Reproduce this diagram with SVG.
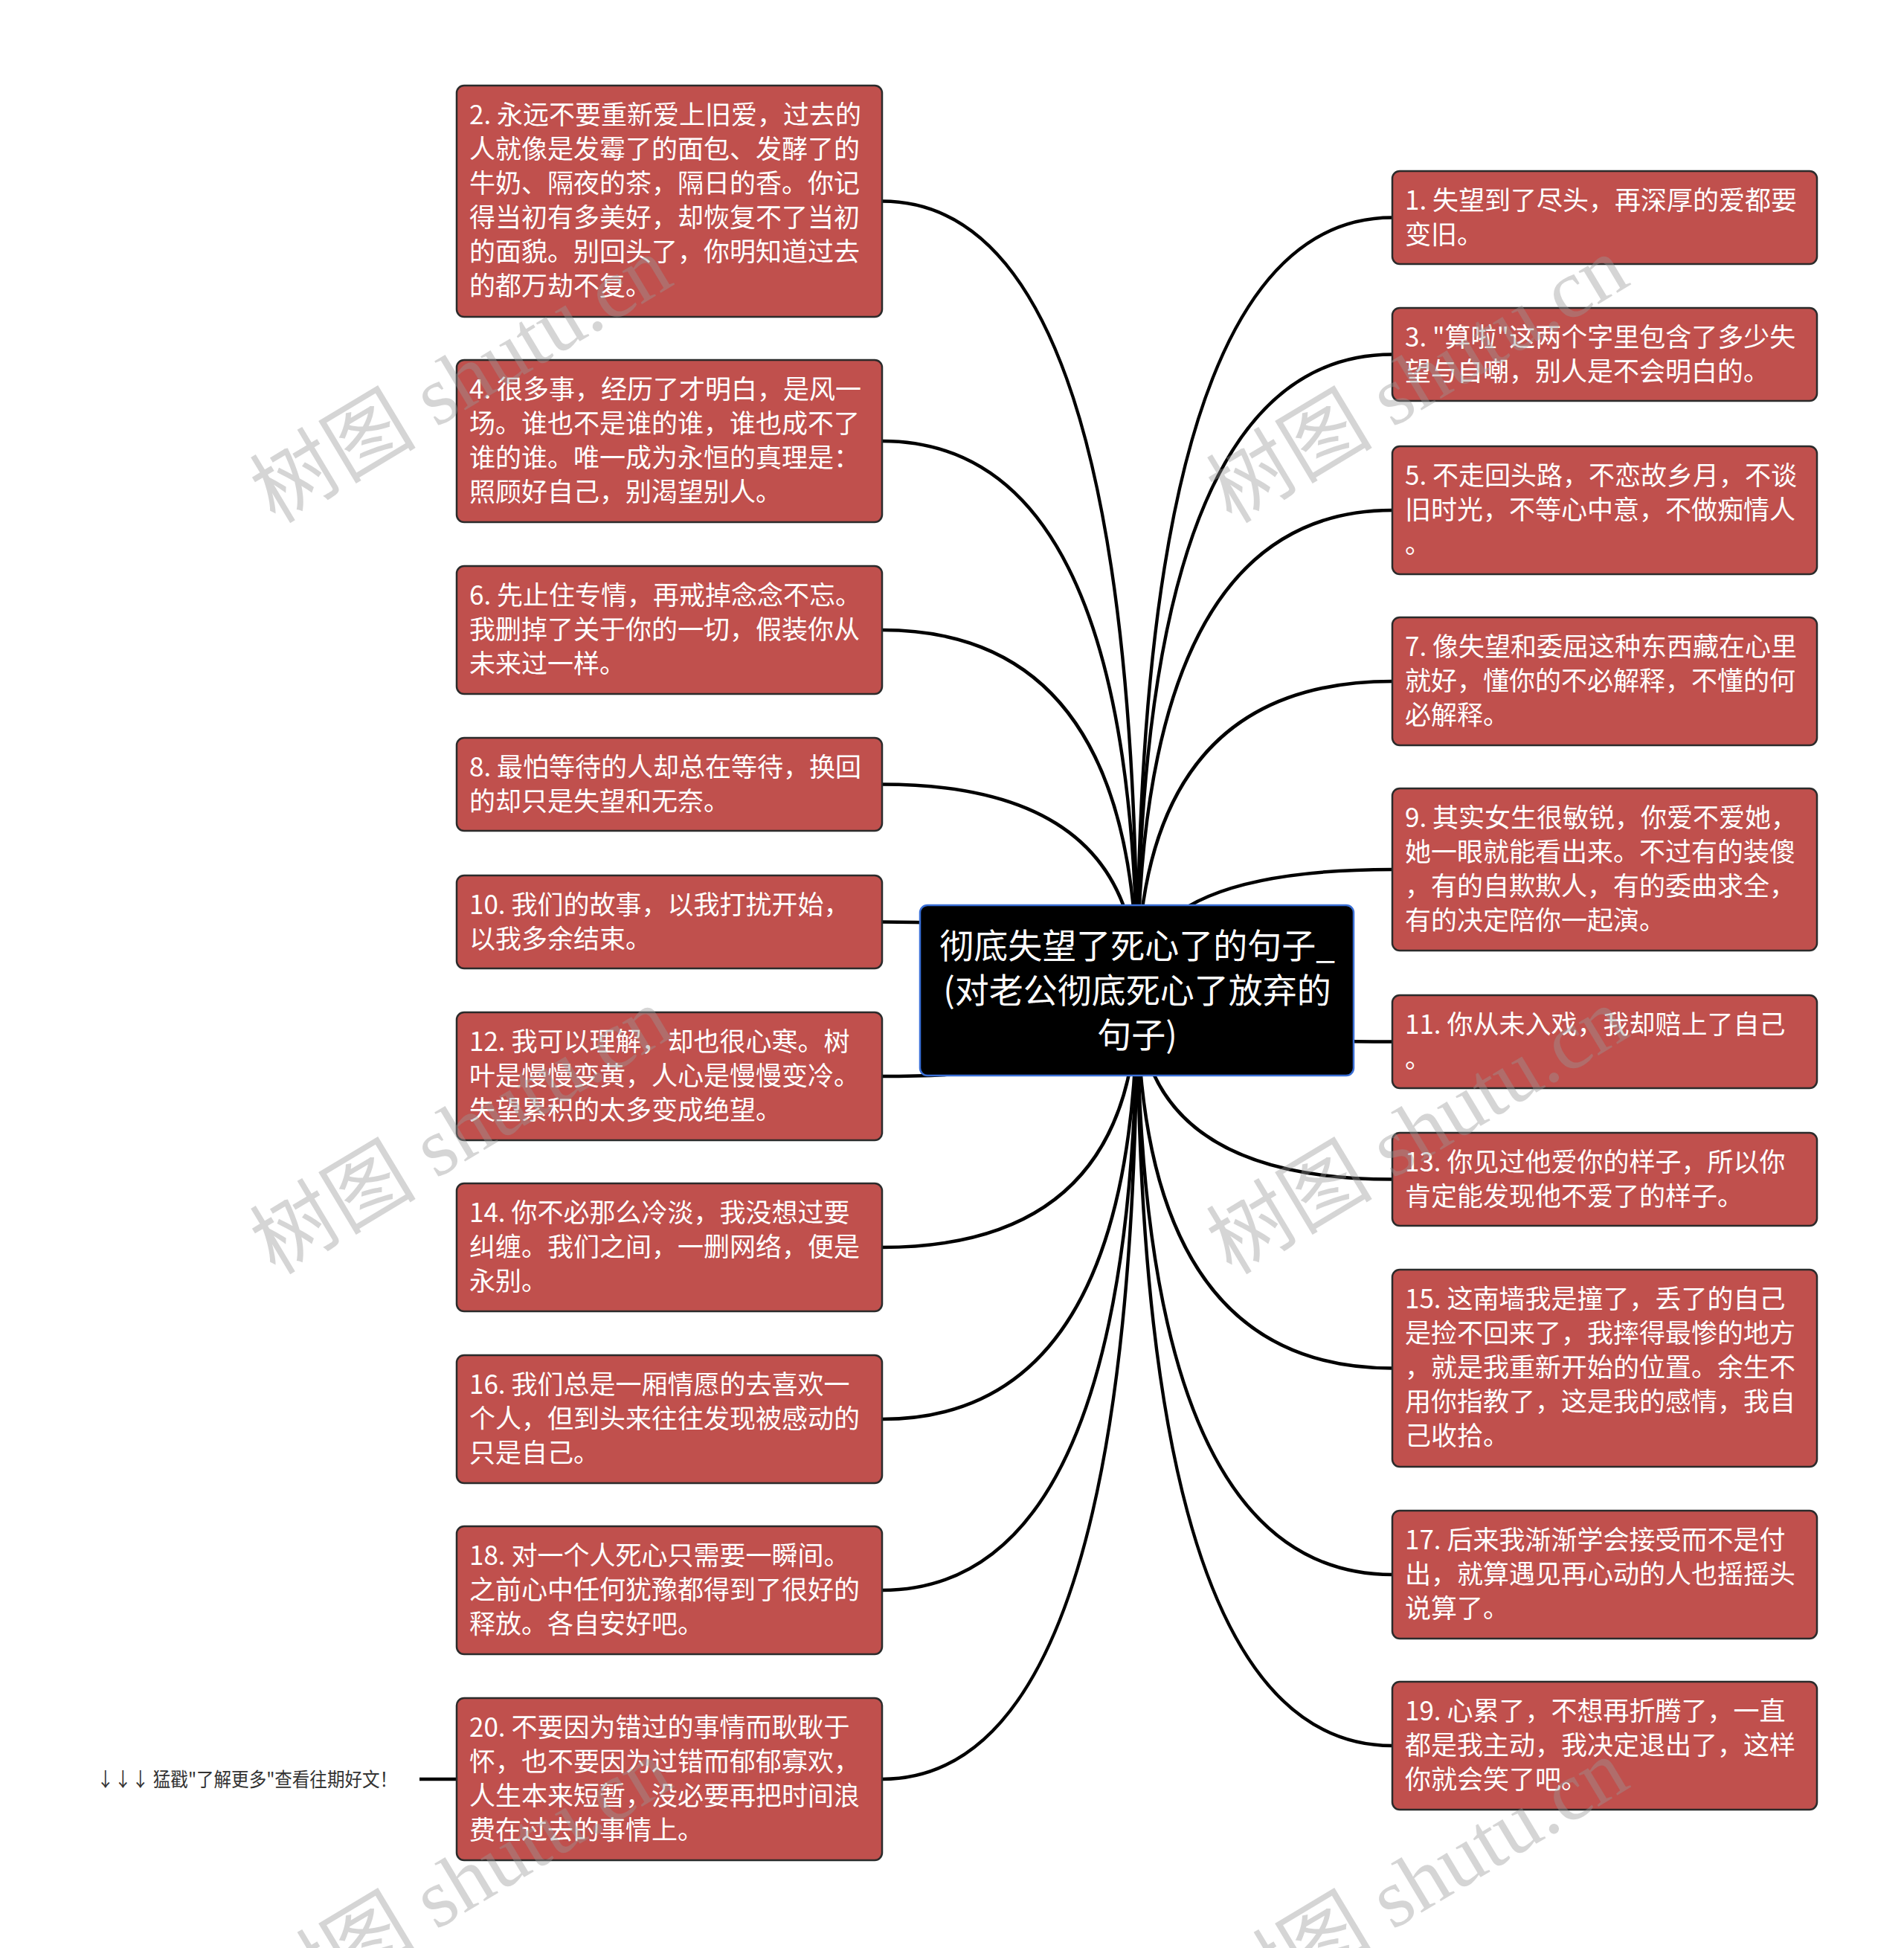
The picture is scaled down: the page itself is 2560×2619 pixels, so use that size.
<svg xmlns="http://www.w3.org/2000/svg" width="2560" height="2619" viewBox="0 0 2560 2619">
<style>
.bg{fill:#ffffff}
.node{fill:#c0504d;stroke:#2b2b2b;stroke-width:2.5}
.root{fill:#000000;stroke:#3a6fd6;stroke-width:2.5}
.t{font-family:"Noto Sans CJK SC","Noto Sans",sans-serif;font-size:35px;fill:#ffffff}
.rt{font-family:"Noto Sans CJK SC","Noto Sans",sans-serif;font-size:46px;fill:#ffffff;text-anchor:middle}
.foot{font-family:"Noto Sans CJK SC","Noto Sans",sans-serif;font-size:26px;fill:#333333}
.edge{fill:none;stroke:#000000;stroke-width:4.5}
.wm{font-family:"Liberation Serif","Noto Sans CJK SC",serif;font-size:112px;fill:#999999;opacity:0.4}
</style>
<rect class="bg" x="0" y="0" width="2560" height="2619"/>
<g id="connectors">
<path class="edge" d="M1529,1331 Q1529,270.5 1186,270.5"/>
<path class="edge" d="M1529,1331 Q1529,593 1186,593"/>
<path class="edge" d="M1529,1331 Q1529,847 1186,847"/>
<path class="edge" d="M1529,1331 Q1529,1054.5 1186,1054.5"/>
<path class="edge" d="M1529,1331 Q1529,1239.5 1186,1239.5"/>
<path class="edge" d="M1529,1331 Q1529,1447 1186,1447"/>
<path class="edge" d="M1529,1331 Q1529,1677 1186,1677"/>
<path class="edge" d="M1529,1331 Q1529,1908 1186,1908"/>
<path class="edge" d="M1529,1331 Q1529,2138 1186,2138"/>
<path class="edge" d="M1529,1331 Q1529,2392 1186,2392"/>
<path class="edge" d="M1529,1331 Q1529,292.5 1872,292.5"/>
<path class="edge" d="M1529,1331 Q1529,476.5 1872,476.5"/>
<path class="edge" d="M1529,1331 Q1529,686 1872,686"/>
<path class="edge" d="M1529,1331 Q1529,916 1872,916"/>
<path class="edge" d="M1529,1331 Q1529,1169 1872,1169"/>
<path class="edge" d="M1529,1331 Q1529,1400.5 1872,1400.5"/>
<path class="edge" d="M1529,1331 Q1529,1585.5 1872,1585.5"/>
<path class="edge" d="M1529,1331 Q1529,1839.5 1872,1839.5"/>
<path class="edge" d="M1529,1331 Q1529,2117 1872,2117"/>
<path class="edge" d="M1529,1331 Q1529,2347 1872,2347"/>
<path class="edge" d="M564,2392 L614,2392"/>
</g>
<g id="root">
<rect class="root" x="1237" y="1217" width="583" height="229" rx="10"/>
<text class="rt"><tspan x="1529" y="1288">彻底失望了死心了的句子_</tspan><tspan x="1529" y="1348">(对老公彻底死心了放弃的</tspan><tspan x="1529" y="1408">句子)</tspan></text>
</g>
<g id="n2">
<rect class="node" x="614" y="115" width="572" height="311" rx="10"/>
<text class="t"><tspan x="631" y="167">2. 永远不要重新爱上旧爱，过去的</tspan><tspan x="631" y="213">人就像是发霉了的面包、发酵了的</tspan><tspan x="631" y="259">牛奶、隔夜的茶，隔日的香。你记</tspan><tspan x="631" y="305">得当初有多美好，却恢复不了当初</tspan><tspan x="631" y="351">的面貌。别回头了，你明知道过去</tspan><tspan x="631" y="397">的都万劫不复。</tspan></text>
</g>
<g id="n4">
<rect class="node" x="614" y="484" width="572" height="218" rx="10"/>
<text class="t"><tspan x="631" y="536">4. 很多事，经历了才明白，是风一</tspan><tspan x="631" y="582">场。谁也不是谁的谁，谁也成不了</tspan><tspan x="631" y="628">谁的谁。唯一成为永恒的真理是：</tspan><tspan x="631" y="674">照顾好自己，别渴望别人。</tspan></text>
</g>
<g id="n6">
<rect class="node" x="614" y="761" width="572" height="172" rx="10"/>
<text class="t"><tspan x="631" y="813">6. 先止住专情，再戒掉念念不忘。</tspan><tspan x="631" y="859">我删掉了关于你的一切，假装你从</tspan><tspan x="631" y="905">未来过一样。</tspan></text>
</g>
<g id="n8">
<rect class="node" x="614" y="992" width="572" height="125" rx="10"/>
<text class="t"><tspan x="631" y="1044">8. 最怕等待的人却总在等待，换回</tspan><tspan x="631" y="1090">的却只是失望和无奈。</tspan></text>
</g>
<g id="n10">
<rect class="node" x="614" y="1177" width="572" height="125" rx="10"/>
<text class="t"><tspan x="631" y="1229">10. 我们的故事，以我打扰开始，</tspan><tspan x="631" y="1275">以我多余结束。</tspan></text>
</g>
<g id="n12">
<rect class="node" x="614" y="1361" width="572" height="172" rx="10"/>
<text class="t"><tspan x="631" y="1413">12. 我可以理解，却也很心寒。树</tspan><tspan x="631" y="1459">叶是慢慢变黄，人心是慢慢变冷。</tspan><tspan x="631" y="1505">失望累积的太多变成绝望。</tspan></text>
</g>
<g id="n14">
<rect class="node" x="614" y="1591" width="572" height="172" rx="10"/>
<text class="t"><tspan x="631" y="1643">14. 你不必那么冷淡，我没想过要</tspan><tspan x="631" y="1689">纠缠。我们之间，一删网络，便是</tspan><tspan x="631" y="1735">永别。</tspan></text>
</g>
<g id="n16">
<rect class="node" x="614" y="1822" width="572" height="172" rx="10"/>
<text class="t"><tspan x="631" y="1874">16. 我们总是一厢情愿的去喜欢一</tspan><tspan x="631" y="1920">个人，但到头来往往发现被感动的</tspan><tspan x="631" y="1966">只是自己。</tspan></text>
</g>
<g id="n18">
<rect class="node" x="614" y="2052" width="572" height="172" rx="10"/>
<text class="t"><tspan x="631" y="2104">18. 对一个人死心只需要一瞬间。</tspan><tspan x="631" y="2150">之前心中任何犹豫都得到了很好的</tspan><tspan x="631" y="2196">释放。各自安好吧。</tspan></text>
</g>
<g id="n20">
<rect class="node" x="614" y="2283" width="572" height="218" rx="10"/>
<text class="t"><tspan x="631" y="2335">20. 不要因为错过的事情而耿耿于</tspan><tspan x="631" y="2381">怀，也不要因为过错而郁郁寡欢，</tspan><tspan x="631" y="2427">人生本来短暂，没必要再把时间浪</tspan><tspan x="631" y="2473">费在过去的事情上。</tspan></text>
</g>
<g id="n1">
<rect class="node" x="1872" y="230" width="571" height="125" rx="10"/>
<text class="t"><tspan x="1889" y="282">1. 失望到了尽头，再深厚的爱都要</tspan><tspan x="1889" y="328">变旧。</tspan></text>
</g>
<g id="n3">
<rect class="node" x="1872" y="414" width="571" height="125" rx="10"/>
<text class="t"><tspan x="1889" y="466">3. "算啦"这两个字里包含了多少失</tspan><tspan x="1889" y="512">望与自嘲，别人是不会明白的。</tspan></text>
</g>
<g id="n5">
<rect class="node" x="1872" y="600" width="571" height="172" rx="10"/>
<text class="t"><tspan x="1889" y="652">5. 不走回头路，不恋故乡月，不谈</tspan><tspan x="1889" y="698">旧时光，不等心中意，不做痴情人</tspan><tspan x="1889" y="744">。</tspan></text>
</g>
<g id="n7">
<rect class="node" x="1872" y="830" width="571" height="172" rx="10"/>
<text class="t"><tspan x="1889" y="882">7. 像失望和委屈这种东西藏在心里</tspan><tspan x="1889" y="928">就好，懂你的不必解释，不懂的何</tspan><tspan x="1889" y="974">必解释。</tspan></text>
</g>
<g id="n9">
<rect class="node" x="1872" y="1060" width="571" height="218" rx="10"/>
<text class="t"><tspan x="1889" y="1112">9. 其实女生很敏锐，你爱不爱她，</tspan><tspan x="1889" y="1158">她一眼就能看出来。不过有的装傻</tspan><tspan x="1889" y="1204">，有的自欺欺人，有的委曲求全，</tspan><tspan x="1889" y="1250">有的决定陪你一起演。</tspan></text>
</g>
<g id="n11">
<rect class="node" x="1872" y="1338" width="571" height="125" rx="10"/>
<text class="t"><tspan x="1889" y="1390">11. 你从未入戏，我却赔上了自己</tspan><tspan x="1889" y="1436">。</tspan></text>
</g>
<g id="n13">
<rect class="node" x="1872" y="1523" width="571" height="125" rx="10"/>
<text class="t"><tspan x="1889" y="1575">13. 你见过他爱你的样子，所以你</tspan><tspan x="1889" y="1621">肯定能发现他不爱了的样子。</tspan></text>
</g>
<g id="n15">
<rect class="node" x="1872" y="1707" width="571" height="265" rx="10"/>
<text class="t"><tspan x="1889" y="1759">15. 这南墙我是撞了，丢了的自己</tspan><tspan x="1889" y="1805">是捡不回来了，我摔得最惨的地方</tspan><tspan x="1889" y="1851">，就是我重新开始的位置。余生不</tspan><tspan x="1889" y="1897">用你指教了，这是我的感情，我自</tspan><tspan x="1889" y="1943">己收拾。</tspan></text>
</g>
<g id="n17">
<rect class="node" x="1872" y="2031" width="571" height="172" rx="10"/>
<text class="t"><tspan x="1889" y="2083">17. 后来我渐渐学会接受而不是付</tspan><tspan x="1889" y="2129">出，就算遇见再心动的人也摇摇头</tspan><tspan x="1889" y="2175">说算了。</tspan></text>
</g>
<g id="n19">
<rect class="node" x="1872" y="2261" width="571" height="172" rx="10"/>
<text class="t"><tspan x="1889" y="2313">19. 心累了，不想再折腾了，一直</tspan><tspan x="1889" y="2359">都是我主动，我决定退出了，这样</tspan><tspan x="1889" y="2405">你就会笑了吧。</tspan></text>
</g>
<g id="footnote">
<text class="foot" x="130" y="2402" textLength="404" lengthAdjust="spacingAndGlyphs">↓↓↓ 猛戳"了解更多"查看往期好文！</text>
</g>
<g id="watermarks">
<text class="wm" transform="translate(370,705) rotate(-31)">树图 shutu.cn</text>
<text class="wm" transform="translate(1656,705) rotate(-31)">树图 shutu.cn</text>
<text class="wm" transform="translate(370,1715) rotate(-31)">树图 shutu.cn</text>
<text class="wm" transform="translate(1656,1715) rotate(-31)">树图 shutu.cn</text>
<text class="wm" transform="translate(370,2725) rotate(-31)">树图 shutu.cn</text>
<text class="wm" transform="translate(1656,2725) rotate(-31)">树图 shutu.cn</text>
</g>
</svg>
